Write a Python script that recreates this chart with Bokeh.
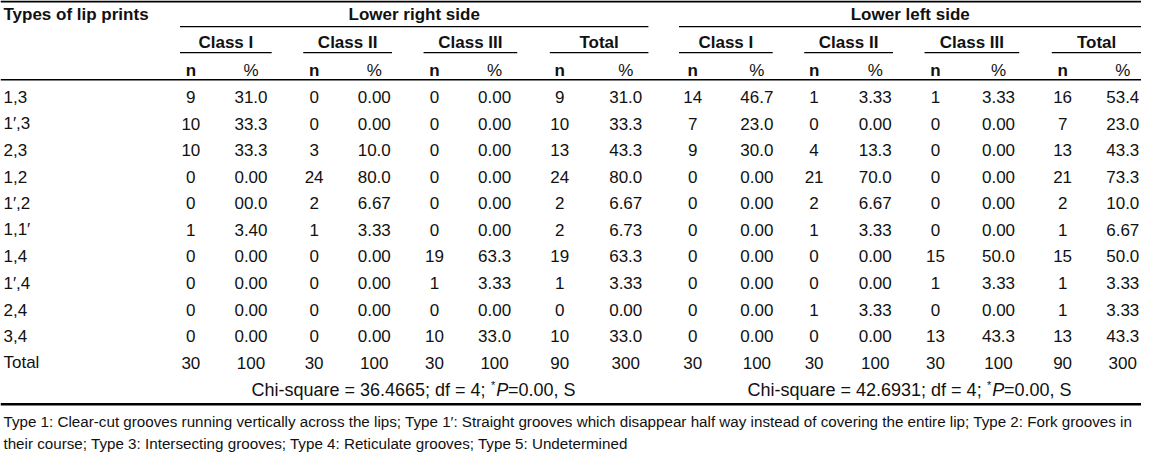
from bokeh.plotting import figure
from bokeh.models import ColumnDataSource, Range1d
from bokeh.core.properties import value
from bokeh.embed import file_html
from bokeh.resources import INLINE

# ---------------- data ----------------
lip_types = ["1,3", "1\u2032,3", "2,3", "1,2", "1\u2032,2", "1,1\u2032", "1,4", "1\u2032,4", "2,4", "3,4"]

right_c1_n = ["9", "10", "10", "0", "0", "1", "0", "0", "0", "0"]
right_c1_p = ["31.0", "33.3", "33.3", "0.00", "00.0", "3.40", "0.00", "0.00", "0.00", "0.00"]
right_c2_n = ["0", "0", "3", "24", "2", "1", "0", "0", "0", "0"]
right_c2_p = ["0.00", "0.00", "10.0", "80.0", "6.67", "3.33", "0.00", "0.00", "0.00", "0.00"]
right_c3_n = ["0", "0", "0", "0", "0", "0", "19", "1", "0", "10"]
right_c3_p = ["0.00", "0.00", "0.00", "0.00", "0.00", "0.00", "63.3", "3.33", "0.00", "33.0"]
right_t_n = ["9", "10", "13", "24", "2", "2", "19", "1", "0", "10"]
right_t_p = ["31.0", "33.3", "43.3", "80.0", "6.67", "6.73", "63.3", "3.33", "0.00", "33.0"]

left_c1_n = ["14", "7", "9", "0", "0", "0", "0", "0", "0", "0"]
left_c1_p = ["46.7", "23.0", "30.0", "0.00", "0.00", "0.00", "0.00", "0.00", "0.00", "0.00"]
left_c2_n = ["1", "0", "4", "21", "2", "1", "0", "0", "1", "0"]
left_c2_p = ["3.33", "0.00", "13.3", "70.0", "6.67", "3.33", "0.00", "0.00", "3.33", "0.00"]
left_c3_n = ["1", "0", "0", "0", "0", "0", "15", "1", "0", "13"]
left_c3_p = ["3.33", "0.00", "0.00", "0.00", "0.00", "0.00", "50.0", "3.33", "0.00", "43.3"]
left_t_n = ["16", "7", "13", "21", "2", "1", "15", "1", "1", "13"]
left_t_p = ["53.4", "23.0", "43.3", "73.3", "10.0", "6.67", "50.0", "3.33", "3.33", "43.3"]

total_n = ["30", "30", "30", "90", "30", "30", "30", "90"]
total_p = ["100", "100", "100", "300", "100", "100", "100", "300"]

header_first = "Types of lip prints"
groups = ["Lower right side", "Lower left side"]
classes = ["Class I", "Class II", "Class III", "Total"]
sub_headers = ["n", "%"]
total_label = "Total"
chi_values = ["36.4665", "42.6931"]
df_values = ["4", "4"]
p_values = ["0.00", "0.00"]
footnotes = [
    "Type 1: Clear-cut grooves running vertically across the lips; Type 1\u2032: Straight grooves which disappear half way instead of covering the entire lip; Type 2: Fork grooves in",
    "their course; Type 3: Intersecting grooves; Type 4: Reticulate grooves; Type 5: Undetermined",
]

# ---------------- layout ----------------
FONT = "Liberation Sans"
W, H = 1157, 468
p = figure(width=1141, height=452, output_backend="svg", toolbar_location=None,
           x_range=Range1d(0, W), y_range=Range1d(H, 0),
           min_border=0, min_border_left=0, min_border_right=0,
           min_border_top=0, min_border_bottom=0)
p.axis.visible = False
p.grid.visible = False
p.outline_line_color = None
p.background_fill_color = "white"
p.border_fill_color = "white"

n_x = [193, 318, 440, 567, 702, 825, 948, 1077]
pct_x = [254, 379, 501, 634, 767, 887, 1012, 1138]
class_spans = [(182, 275), (307, 397), (429, 524), (557, 657),
               (688, 783), (815, 905), (937, 1033), (1066, 1157)]
group_spans = [(182, 657), (688, 1157)]
row_y = [100 + 27.5 * i for i in range(len(lip_types))]
total_y = 375
chi_y = 403

DATA_FS = "17px"
HEAD_FS = "17px"
COLOR = "#111111"

# rules
def hline(x0, x1, y, w):
    p.segment(x0=[x0], x1=[x1], y0=[y], y1=[y], line_color="black", line_width=w)

hline(0, W, 1, 2)
for a, b in group_spans:
    hline(a, b, 27, 1.3)
for a, b in class_spans:
    hline(a, b, 54, 1.3)
hline(0, W, 82, 1.5)
hline(0, W, 418, 2.5)

def txt(xs, ys, texts, align="center", fs=DATA_FS, style="normal", baseline="middle"):
    src = ColumnDataSource(dict(x=xs, y=ys, t=texts))
    p.text(x="x", y="y", text="t", source=src, text_align=align, text_baseline=baseline,
           text_font=value(FONT), text_font_size=fs, text_font_style=style,
           text_color=COLOR)

# headers
txt([3], [15], [header_first], align="left", fs=HEAD_FS, style="bold")
txt([(a + b) / 2 for a, b in group_spans], [15, 15], groups, fs=HEAD_FS, style="bold")
cls_labels = classes + classes
txt([(a + b) / 2 for a, b in class_spans], [43] * 8, cls_labels, fs=HEAD_FS, style="bold")
txt(n_x, [72] * 8, [sub_headers[0]] * 8, fs=HEAD_FS, style="bold")
txt(pct_x, [72] * 8, [sub_headers[1]] * 8, fs=HEAD_FS)

# body
txt([3] * len(lip_types), row_y, lip_types, align="left")
cols_n = [right_c1_n, right_c2_n, right_c3_n, right_t_n, left_c1_n, left_c2_n, left_c3_n, left_t_n]
cols_p = [right_c1_p, right_c2_p, right_c3_p, right_t_p, left_c1_p, left_c2_p, left_c3_p, left_t_p]
xs, ys, ts = [], [], []
for j in range(8):
    for i in range(len(lip_types)):
        xs += [n_x[j], pct_x[j]]
        ys += [row_y[i], row_y[i]]
        ts += [cols_n[j][i], cols_p[j][i]]
txt(xs, ys, ts)

# total row
txt([3], [total_y], [total_label], align="left")
txt(n_x, [total_y] * 8, total_n)
txt(pct_x, [total_y] * 8, total_p)

# chi-square lines (pieces: plain, superscript *, italic P, plain)
fs_num = 18
for g, (a, b) in enumerate(group_spans):
    c = (a + b) / 2
    before = "Chi-square = %s; df = %s; " % (chi_values[g], df_values[g])
    after = "=%s, S" % p_values[g]
    w_before = 13.286 * fs_num
    w_star = 0.389 * 12
    w_P = 0.667 * fs_num
    w_after = 3.753 * fs_num
    total_w = w_before + w_star + w_P + w_after
    x0 = c - total_w / 2
    txt([x0 + w_before], [chi_y], [before], align="right", fs="%dpx" % fs_num)
    txt([x0 + w_before + 0.5], [chi_y - 5], ["*"], align="left", fs="11px")
    txt([x0 + w_before + w_star + 1], [chi_y], ["P"], align="left", style="italic", fs="%dpx" % fs_num)
    txt([x0 + w_before + w_star + w_P + 1], [chi_y], [after], align="left", fs="%dpx" % fs_num)

# footnotes
txt([3, 3], [436, 459], footnotes, align="left", fs="15.2px")

open("out.html", "w").write(file_html(p, INLINE))
